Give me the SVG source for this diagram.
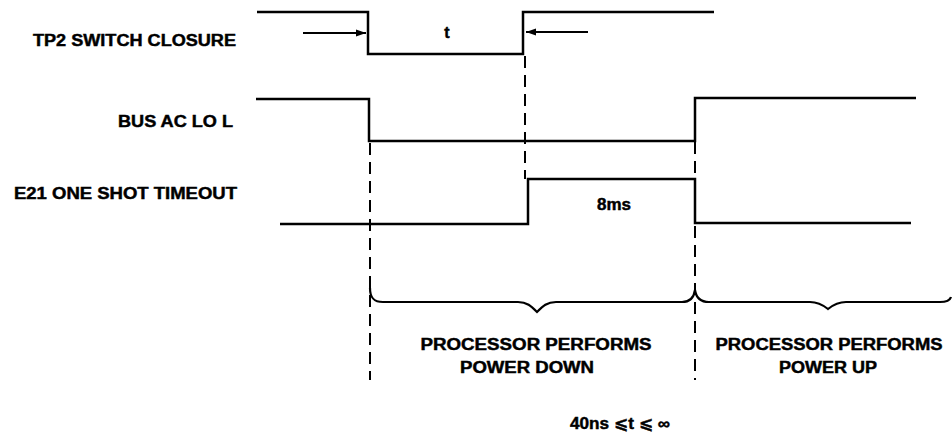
<svg xmlns="http://www.w3.org/2000/svg" width="952" height="436" viewBox="0 0 952 436">
<style>
.w{fill:none;stroke:#000;stroke-width:2.5;stroke-linejoin:miter}
.d{fill:none;stroke:#000;stroke-width:2;stroke-dasharray:12 7}
.b{fill:none;stroke:#000;stroke-width:2.2}
.a{fill:none;stroke:#000;stroke-width:2}
text{font-family:"Liberation Sans",Arial,sans-serif;font-weight:bold;font-size:16px;fill:#000;stroke:#000;stroke-width:0.45}
.m{font-family:"Liberation Sans","DejaVu Sans",sans-serif}
</style>
<defs>
<marker id="ah" viewBox="0 0 10 10" refX="10" refY="5" markerWidth="10" markerHeight="10" markerUnits="userSpaceOnUse" orient="auto">
<path d="M0,1.5 L10,5 L0,8.5 Z" fill="#000"/>
</marker>
</defs>
<rect width="952" height="436" fill="#fff"/>
<g id="labels">
<text x="236" y="46" text-anchor="end" textLength="203" lengthAdjust="spacingAndGlyphs">TP2 SWITCH CLOSURE</text>
<text x="233" y="127" text-anchor="end" textLength="115" lengthAdjust="spacingAndGlyphs">BUS AC LO L</text>
<text x="14" y="199" textLength="223" lengthAdjust="spacingAndGlyphs">E21 ONE SHOT TIMEOUT</text>
</g>
<g id="tp2">
<path class="w" d="M257,12 H368 V54 H523 V12 H714"/>
<text x="447" y="38" text-anchor="middle">t</text>
</g>
<g id="bus">
<path class="w" d="M256,99 H369 V141 H695 V98 H916"/>
</g>
<g id="e21">
<path class="w" d="M280,224 H528 V179 H695 V223 H911"/>
<text x="614" y="210" text-anchor="middle" textLength="34" lengthAdjust="spacingAndGlyphs">8ms</text>
</g>
<g id="connectors">
<line class="a" x1="303" y1="33" x2="366" y2="33" marker-end="url(#ah)"/>
<line class="a" x1="588" y1="32" x2="526" y2="32" marker-end="url(#ah)"/>
<line class="d" x1="370" y1="143" x2="370" y2="380"/>
<line class="d" x1="525" y1="56" x2="525" y2="179"/>
<line class="d" x1="695" y1="142" x2="695" y2="178"/>
<line class="d" x1="695" y1="226" x2="695" y2="380"/>
</g>
<g id="brace-down">
<path class="b" d="M370,288 C370,297 373,302 383,302 L518,302 C527,302 531,306 537,312 C543,306 547,302 556,302 L682,302 C690,302 694,297 695,290"/>
<text x="536" y="350" text-anchor="middle" textLength="231" lengthAdjust="spacingAndGlyphs">PROCESSOR PERFORMS</text>
<text x="527" y="373" text-anchor="middle" textLength="134" lengthAdjust="spacingAndGlyphs">POWER DOWN</text>
</g>
<g id="brace-up">
<path class="b" d="M695,290 C696,297 700,302 709,302 L810,302 C818,302 823,305 828,309 C833,305 838,302 846,302 L940,302 C946,302 950,300 951,297"/>
<text x="829" y="350" text-anchor="middle" textLength="227" lengthAdjust="spacingAndGlyphs">PROCESSOR PERFORMS</text>
<text x="828" y="373" text-anchor="middle" textLength="98" lengthAdjust="spacingAndGlyphs">POWER UP</text>
</g>
<g id="note">
<text class="m" x="570" y="429" textLength="100" lengthAdjust="spacingAndGlyphs">40ns ⩽t ⩽ ∞</text>
</g>
</svg>
